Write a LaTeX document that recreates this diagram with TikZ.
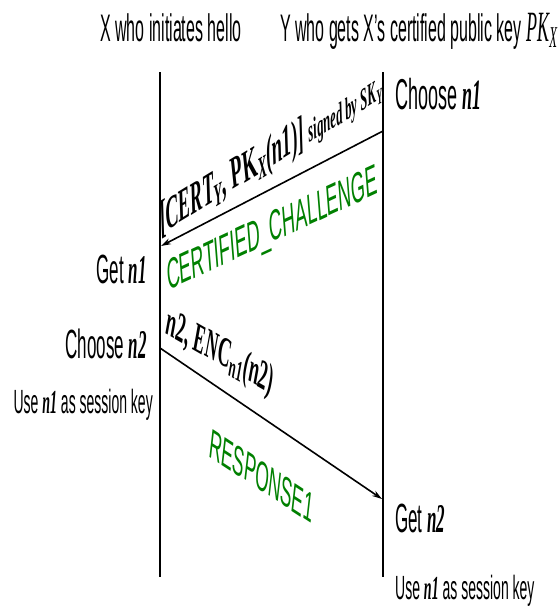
\documentclass[tikz,border=0pt]{standalone}
\usepackage{fontspec}
\setmainfont{Liberation Sans}
\newfontfamily\tms{Liberation Serif}
\usetikzlibrary{arrows.meta}
\definecolor{msggreen}{RGB}{0,128,0}
\newcommand\nvar[1]{{\tms\bfseries\itshape #1}}
\begin{document}
\begin{tikzpicture}[x=1pt,y=-1pt,
  life/.style={line width=2.4pt},
  msg/.style={line width=1.6pt,-{Stealth[length=10pt,width=6pt]}},
  ttl/.style={inner sep=0pt, font=\fontsize{16}{19}\selectfont},
  lbl/.style={inner sep=0pt, font=\fontsize{17}{20}\selectfont},
  small/.style={inner sep=0pt, font=\fontsize{14}{16}\selectfont},
  msglbl/.style={inner sep=0pt, font=\fontsize{19}{22}\selectfont\tms\bfseries\itshape},
  glbl/.style={inner sep=0pt, text=msggreen, font=\fontsize{17.5}{20}\selectfont}]
\useasboundingbox (0,0) rectangle (559,608);
\coordinate (xt) at (160,72);
\coordinate (xb) at (160,577);
\coordinate (yt) at (383,72);
\coordinate (yb) at (383,577);
\draw[life] (xt) -- (xb);
\draw[life] (yt) -- (yb);
\coordinate (m1s) at (383,131);
\coordinate (m1e) at (161,246);
\coordinate (m2s) at (160,348);
\coordinate (m2e) at (382,499);
\draw[msg] (m1s) -- (m1e);
\draw[msg] (m2s) -- (m2e);
\begin{scope}[y=-0.416667pt, yscale=2.4, every node/.append style={transform shape}]
\node[ttl, anchor=base west] (tx) at (100,41) {X who initiates hello};
\node[ttl, anchor=base west] (ty) at (280,41) {Y who gets X’s certified public key {\tms\itshape\fontsize{18}{20}\selectfont PK\textsubscript{X}}};
\node[lbl, font=\fontsize{18}{21}\selectfont, anchor=base west] (c1) at (395,109) {Choose \nvar{n1}};
\node[lbl, anchor=base east] (g1) at (147,283) {Get \nvar{n1}};
\node[lbl, anchor=base east] (c2) at (147,358) {Choose \nvar{n2}};
\node[small, anchor=base east] (u1) at (153,413) {Use \nvar{n1} as session key};
\node[lbl, anchor=base west] (g2) at (395,532) {Get \nvar{n2}};
\node[small, anchor=base west] (u2) at (395,599) {Use \nvar{n1} as session key};
\node[msglbl, anchor=base, rotate=14.3] (l1) at (272,166)
  {[CERT\textsubscript{Y}, {\upshape PK}\textsubscript{X}(n1)] {\fontsize{13}{15}\selectfont signed by SK\textsubscript{Y}}};
\node[glbl, font=\fontsize{18}{21}\selectfont, anchor=base, rotate=10.9] (l1g) at (273,242) {CERTIFIED\_CHALLENGE};
\node[msglbl, font=\fontsize{18}{21}\selectfont\tms\bfseries\itshape, anchor=base, rotate=-13.4] (l2) at (219,364)
  {n2, ENC\textsubscript{n1}(n2)};
\node[glbl, anchor=base, rotate=-15.2] (l2g) at (260,490) {RESPONSE1};
\end{scope}
\end{tikzpicture}
\end{document}
